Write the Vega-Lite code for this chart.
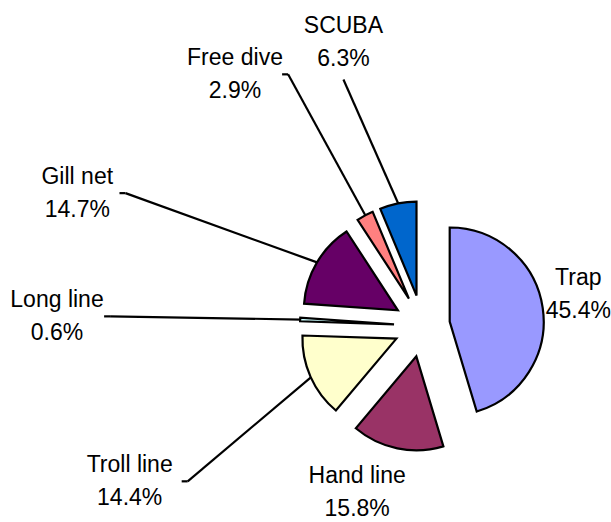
{
  "$schema": "https://vega.github.io/schema/vega-lite/v6.json",
  "width": 611,
  "height": 522,
  "padding": 0,
  "autosize": {"type": "none"},
  "background": "white",
  "config": {"view": {"stroke": null}},
  "data": {
    "values": [
      {"method": "Trap", "pct": 45.4},
      {"method": "Hand line", "pct": 15.8},
      {"method": "Troll line", "pct": 14.4},
      {"method": "Long line", "pct": 0.6},
      {"method": "Gill net", "pct": 14.7},
      {"method": "Free dive", "pct": 2.9},
      {"method": "SCUBA", "pct": 6.3}
    ]
  },
  "transform": [
    {"joinaggregate": [{"op": "sum", "field": "pct", "as": "total"}]},
    {"window": [{"op": "sum", "field": "pct", "as": "cum"}], "frame": [null, 0]},
    {"calculate": "(datum.cum - datum.pct) / datum.total", "as": "t1"},
    {"calculate": "datum.cum / datum.total", "as": "t2"},
    {"calculate": "PI * (datum.t1 + datum.t2)", "as": "mid"},
    {"calculate": "sin(datum.mid)", "as": "s"},
    {"calculate": "cos(datum.mid)", "as": "c"},
    {"calculate": "28 * datum.s", "as": "ex"},
    {"calculate": "-31 * datum.c", "as": "ey"},
    {"calculate": "121 * datum.s", "as": "ax"},
    {"calculate": "-125 * datum.c", "as": "ay"},
    {"calculate": "datum.s > 0 ? 158 * datum.s : (datum.c > 0 ? max(-365, 400 * datum.s) : 320 * datum.s)", "as": "lx"},
    {"calculate": "datum.c < 0 ? 166 * min(1, -2.3 * datum.c) : -290 * pow(datum.c, 1.15)", "as": "ly"},
    {"calculate": "datum.s < -0.4 ? datum.lx + 4.9 * length(datum.method) + 3 : datum.lx", "as": "tx"},
    {"calculate": "datum.s < -0.4 ? datum.tx + 6 : datum.lx", "as": "sx"},
    {"calculate": "datum.s < -0.4 ? datum.ly : datum.ly + 37", "as": "sy"},
    {"calculate": "sqrt(datum.lx * datum.lx + datum.ly * datum.ly)", "as": "ldist"},
    {"calculate": "datum.method + '\\n' + format(datum.pct, '.1f') + '%'", "as": "label"}
  ],
  "encoding": {
    "x": {"field": "ex", "type": "quantitative", "axis": null, "scale": {"domain": [-422, 189], "nice": false, "zero": false}},
    "y": {"field": "ey", "type": "quantitative", "axis": null, "scale": {"domain": [-326, 196], "nice": false, "zero": false, "reverse": true}}
  },
  "layer": [
    {
      "transform": [{"filter": "datum.ldist > 220"}],
      "mark": {"type": "rule", "stroke": "black", "strokeWidth": 2.2},
      "encoding": {
        "x": {"field": "sx", "type": "quantitative"},
        "y": {"field": "sy", "type": "quantitative"},
        "x2": {"field": "ax"},
        "y2": {"field": "ay"}
      }
    },
    {
      "transform": [{"filter": "datum.ldist > 220 && datum.s < -0.4"}],
      "mark": {"type": "rule", "stroke": "black", "strokeWidth": 2.2},
      "encoding": {
        "x": {"field": "tx", "type": "quantitative"},
        "y": {"field": "sy", "type": "quantitative"},
        "x2": {"field": "sx"},
        "y2": {"field": "sy"}
      }
    },
    {
      "mark": {"type": "arc", "outerRadius": 94, "stroke": "black", "strokeWidth": 2.2, "strokeJoin": "miter"},
      "encoding": {
        "theta": {"field": "t1", "type": "quantitative", "scale": {"domain": [0, 1], "range": [0, 6.283185307179586]}},
        "theta2": {"field": "t2"},
        "color": {
          "field": "method",
          "type": "nominal",
          "legend": null,
          "scale": {
            "domain": ["Trap", "Hand line", "Troll line", "Long line", "Gill net", "Free dive", "SCUBA"],
            "range": ["#9999FF", "#993366", "#FFFFCC", "#CCFFFF", "#660066", "#FF8080", "#0066CC"]
          }
        }
      }
    },
    {
      "mark": {"type": "text", "font": "Liberation Sans", "fontSize": 23, "lineBreak": "\n", "lineHeight": 33, "align": "center", "baseline": "middle", "dy": -16.5, "color": "black"},
      "encoding": {
        "x": {"field": "lx", "type": "quantitative"},
        "y": {"field": "ly", "type": "quantitative"},
        "text": {"field": "label", "type": "nominal"}
      }
    }
  ]
}
